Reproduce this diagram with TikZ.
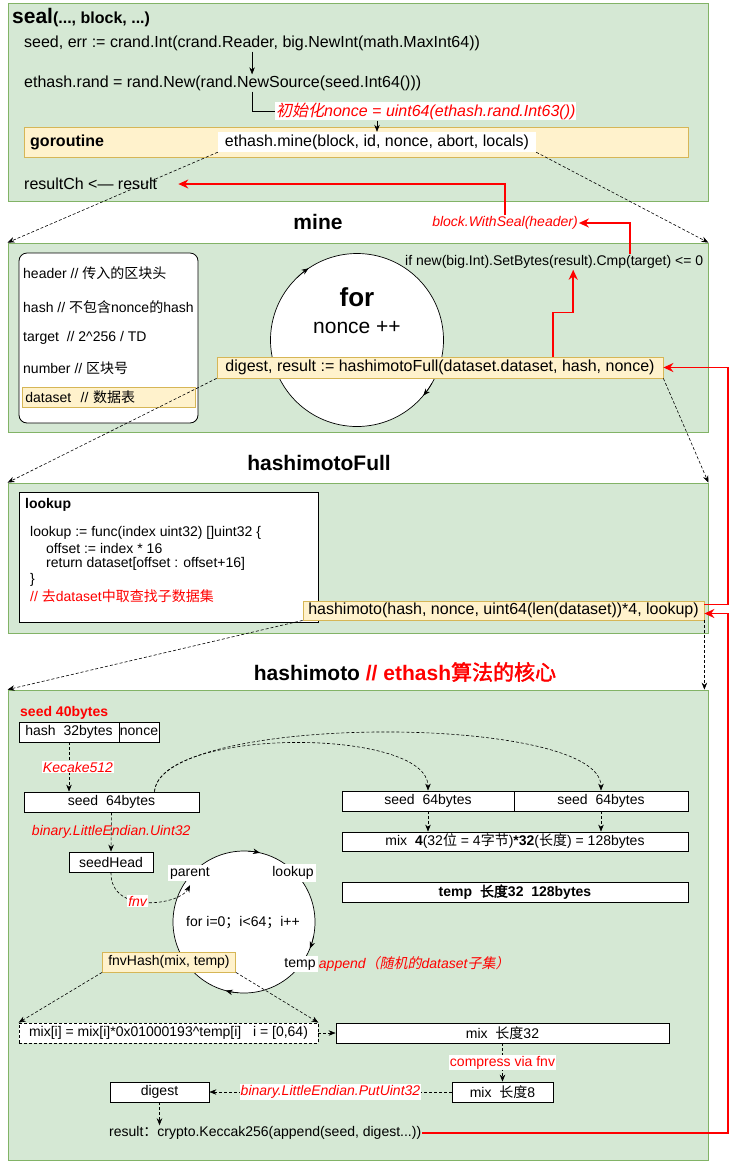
\documentclass[tikz,border=0pt]{standalone}
\usepackage{fontspec}
\setmainfont{Liberation Sans}
\newfontfamily\cjk{Noto Sans CJK SC}[AutoFakeSlant=0.2,AutoFakeBold=2]
\newcommand{\zh}[1]{{\cjk #1}}
\usetikzlibrary{arrows.meta}

\definecolor{panelfill}{HTML}{D5E8D4}
\definecolor{paneldraw}{HTML}{82B366}
\definecolor{callfill}{HTML}{FFF2CC}
\definecolor{calldraw}{HTML}{D6B656}

\begin{document}
\begin{tikzpicture}[x=1pt, y=-1pt,
    font=\fontsize{14}{16}\selectfont,
    panel/.style={draw=paneldraw, fill=panelfill, line width=0.8pt, inner sep=0pt},
    plain/.style={inner sep=1pt, anchor=west},
    bigger/.style={font=\fontsize{16}{18}\selectfont},
    heading/.style={font=\fontsize{21}{24}\selectfont\bfseries},
    box/.style={draw, fill=white, line width=0.8pt, inner sep=0pt, minimum height=20pt},
    call/.style={draw=calldraw, fill=callfill, line width=0.8pt, inner sep=1pt, minimum height=20pt},
    note/.style={text=red, font=\fontsize{14}{16}\selectfont\itshape, inner sep=1pt},
    flow/.style={-{Stealth[length=7pt,width=5.5pt]}, line width=0.6pt},
    dflow/.style={flow, dash pattern=on 3pt off 2pt},
    rflow/.style={-{Stealth[length=10pt,width=9pt]}, draw=red, line width=1.6pt}]
\useasboundingbox (0,0) rectangle (738,1163);

% seal
\node[panel, minimum width=700pt, minimum height=198pt] (sealpanel) at (358,102) {};
\node[plain, font=\fontsize{16}{18}\selectfont\bfseries] (sealtitle) at (11,18) {{\fontsize{21}{24}\selectfont seal}(..., block, ...)};
\node[plain, bigger] (seedline) at (23,43) {seed, err := crand.Int(crand.Reader, big.NewInt(math.MaxInt64))};
\node[plain, bigger] (randline) at (23,83) {ethash.rand = rand.New(rand.NewSource(seed.Int64()))};
\draw[flow] (seedline.south) -- (seedline.south |- randline.north);
\node[note, font=\fontsize{16}{18}\selectfont\itshape, fill=white, anchor=west] (initnonce) at (275,111) {\zh{初始化}nonce = uint64(ethash.rand.Int63())};
\draw (seedline.south |- randline.south) -- (seedline.south |- initnonce.west) -- (initnonce.west);

% goroutine
\node[call, minimum width=664pt, minimum height=30pt, anchor=west] (gorband) at (24,142) {};
\node[plain, font=\fontsize{16}{18}\selectfont\bfseries] (gorlabel) at (29,142) {goroutine};
\node[fill=white, bigger, minimum width=318pt, minimum height=20pt, inner sep=0pt] (minecall) at (377,142) {ethash.mine(block, id, nonce, abort, locals)};
\draw[flow] (initnonce.south -| minecall.north) -- (minecall.north);
\node[plain, bigger] (resultline) at (23,184) {resultCh <— result};

% mine
\node[heading] (minetitle) at (318,222) {mine};
\node[panel, minimum width=700pt, minimum height=189pt] (minepanel) at (358,337.5) {};
\node[note] (withseal) at (505,223) {block.WithSeal(header)};
\draw[rflow] (withseal.north) |- ([xshift=20pt]resultline.east);
\coordinate (cmpout) at (630,254);
\draw[rflow] (cmpout) |- (withseal.east);
\draw[dflow] (minecall.south west) -- (minepanel.north west);
\draw[dflow] (minecall.south east) -- (minepanel.north east);

% mine inputs
\node[box, rounded corners=8pt, minimum width=179pt, minimum height=170pt] (varbox) at (108.5,338) {};
\node[plain] (headervar) at (22,273) {header // \zh{传入的区块头}};
\node[plain] (hashvar) at (22,307) {hash // \zh{不包含}nonce\zh{的}hash};
\node[plain] (targetvar) at (22,338) {target\ \ // 2\textasciicircum256 / TD};
\node[plain] (numbervar) at (22,368) {number // \zh{区块号}};
\node[call, anchor=west, minimum width=173pt, text width=167pt, inner xsep=3pt, align=left] (datasetvar) at (22,397) {dataset\ \ // \zh{数据表}};

% for loop over nonce
\node[draw, fill=white, circle, minimum size=173pt, line width=0.7pt] (forloop) at (357,340) {};
\node[font=\fontsize{26}{28}\selectfont\bfseries] (fortext) at (357,297) {for};
\node[font=\fontsize{21}{24}\selectfont] (noncetext) at (357,328) {nonce ++};
\draw[flow] (forloop.center) ++(226:86.5) arc[start angle=226, end angle=236, radius=86.5];
\draw[flow] (forloop.center) ++(30:86.5) arc[start angle=30, end angle=40, radius=86.5];
\node[plain] (ifline) at (404,262) {if new(big.Int).SetBytes(result).Cmp(target) <= 0};
\node[call, bigger, minimum width=446pt, minimum height=21pt] (digestcall) at (440,367.5) {digest, result := hashimotoFull(dataset.dataset, hash, nonce)};
\draw[rflow] ([xshift=113pt]digestcall.north) -- ++(0,-44) -| ([xshift=19pt]ifline.south);

% hashimotoFull
\node[heading] (hftitle) at (319,463) {hashimotoFull};
\node[panel, minimum width=700pt, minimum height=150pt] (hfpanel) at (358,558) {};
\draw[dflow] (digestcall.south west) -- (hfpanel.north west);
\draw[dflow] (digestcall.south east) -- (hfpanel.north east);
\node[box, minimum width=299pt, minimum height=130pt] (lookupbox) at (168.5,557) {};
\node[plain, font=\fontsize{14}{16}\selectfont\bfseries] (lookuphead) at (24,505) {lookup};
\node[plain] (lookup1) at (29,533) {lookup := func(index uint32) []uint32 \{};
\node[plain] (lookup2) at (45,548) {offset := index * 16};
\node[plain] (lookup3) at (45,564) {return dataset[offset : offset+16]};
\node[plain] (lookup4) at (29,580) {\}};
\node[plain, text=red] (lookup5) at (29,596) {// \zh{去}dataset\zh{中取查找子数据集}};
\node[call, bigger, minimum width=401pt, minimum height=19pt] (hashicall) at (503.5,610.5) {hashimoto(hash, nonce, uint64(len(dataset))*4, lookup)};

% hashimoto
\node[heading] (htitle) at (405,672) {hashimoto {\color{red}// ethash\zh{算法的核心}}};
\node[panel, minimum width=700pt, minimum height=470pt] (hpanel) at (358,925) {};
\draw[dflow] (hashicall.south west) -- (hpanel.north west);
\draw[dflow] (hashicall.south east) -- (hashicall.south east |- hpanel.north);

% seed
\node[plain, text=red, font=\fontsize{14}{16}\selectfont\bfseries] (seedsize) at (19,713) {seed 40bytes};
\node[box, minimum width=100pt] (hashbox) at (69,732) {hash\ \ 32bytes};
\node[box, minimum width=40pt] (noncebox) at (139,732) {nonce};
\node[box, minimum width=175pt] (seedhash) at (111.5,802) {seed\ \ 64bytes};
\draw[dflow] (hashbox.south) -- node[note, fill=white, xshift=9pt] (kecak) {Kecake512} (hashbox.south |- seedhash.north);
\node[box, minimum width=84pt] (seedhead) at (111,862) {seedHead};
\draw[dflow] (seedhash.south) -- node[note] (le32) {binary.LittleEndian.Uint32} (seedhead.north);

% mix and temp
\node[box, minimum width=172pt] (seedA) at (428,801) {seed\ \ 64bytes};
\node[box, minimum width=174pt] (seedB) at (601,801) {seed\ \ 64bytes};
\node[box, minimum width=346pt, minimum height=19pt] (mixbox) at (515,841.5) {mix\ \ \textbf{4}(32\zh{位} = 4\zh{字节})\textbf{*32}(\zh{长度}) = 128bytes};
\node[box, minimum width=346pt, font=\fontsize{14}{16}\selectfont\bfseries] (tempbox) at (515,892) {temp\ \ \zh{长度}32\ \ 128bytes};
\draw[dflow] ([xshift=43pt]seedhash.north) .. controls (160,727) and (428,727) .. (seedA.north);
\draw[dflow] ([xshift=43pt]seedhash.north) .. controls (160,713) and (601,713) .. (seedB.north);
\draw[dflow] (seedA.south) -- (mixbox.north -| seedA.south);
\draw[dflow] (seedB.south) -- (mixbox.north -| seedB.south);

% loop over 64 rounds
\node[draw, fill=white, circle, minimum size=142pt, line width=0.7pt] (hloop) at (244,922) {};
\draw[flow] (hloop.center) ++(273:71) arc[start angle=273, end angle=283, radius=71];
\draw[flow] (hloop.center) ++(12:71) arc[start angle=12, end angle=22, radius=71];
\draw[flow] (hloop.center) ++(95:71) arc[start angle=95, end angle=105, radius=71];
\node[fill=white, inner sep=2pt] (parentlbl) at (190,873) {parent};
\node[fill=white, inner sep=2pt] (lookuplbl) at (293,873) {lookup};
\node[fill=white, inner sep=2pt] (templbl) at (300,964) {temp};
\node[note, anchor=west] (appendlbl) at (templbl.east) {append\zh{（随机的}dataset\zh{子集）}};
\node (forilbl) at (243,923) {for i=0\zh{；}i<64\zh{；}i++};
\draw[dflow] (seedhead.south) .. controls (110,915) and (180,905) .. ([yshift=-4pt]parentlbl.south) node[pos=0.42, note, fill=white] (fnvlbl) {fnv};
\node[call, minimum width=133pt] (fnvhash) at (169,962) {fnvHash(mix, temp)};

% result
\node[box, dash pattern=on 3pt off 2pt, minimum width=299pt] (mixi) at (168.5,1033) {mix[i] = mix[i]*0x01000193\textasciicircum temp[i]\ \ \ i = [0,64)};
\node[box, minimum width=333pt] (mixlong) at (502.5,1033) {mix\ \ \zh{长度}32};
\node[box, minimum width=101pt] (mixshort) at (502.5,1092) {mix\ \ \zh{长度}8};
\node[box, minimum width=99pt] (digestbox) at (159.5,1092) {digest};
\node[plain] (keccakline) at (108,1133) {result\zh{：}crypto.Keccak256(append(seed, digest...))};
\draw[dflow] (fnvhash.south west) -- (mixi.north west);
\draw[dflow] (fnvhash.south east) -- (mixi.north east);
\draw[dflow] (mixi.east) -- (mixlong.west);
\draw[dflow] (mixlong.south) -- node[text=red, fill=white, inner sep=1pt] (compress) {compress via fnv} (mixshort.north);
\draw[dflow] (mixshort.west) -- node[note, fill=white] (putuint) {binary.LittleEndian.PutUint32} (digestbox.east);
\draw[dflow] (digestbox.south) -- (digestbox.south |- keccakline.north);

% red feedback rail
\coordinate (rightrail) at (728,0);
\draw[rflow] ([yshift=6pt]hashicall.east) -- ([yshift=6pt]hashicall.east -| rightrail) |- (digestcall.east);
\draw[rflow] (keccakline.east) -- (keccakline.east -| rightrail) |- ([yshift=-3pt]hashicall.east);

\end{tikzpicture}
\end{document}
